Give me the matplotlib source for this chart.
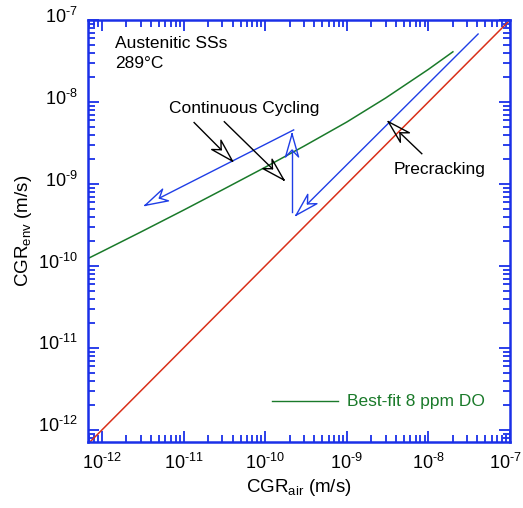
import matplotlib
matplotlib.use('Agg')
import matplotlib.pyplot as plt
import numpy as np
from matplotlib.ticker import LogLocator, NullFormatter, FixedLocator, FuncFormatter
from matplotlib.transforms import ScaledTranslation

plt.rcParams['font.family'] = ['Liberation Sans', 'DejaVu Sans']
plt.rcParams['mathtext.fontset'] = 'custom'
plt.rcParams['mathtext.rm'] = 'Liberation Sans'
plt.rcParams['mathtext.it'] = 'Liberation Sans:italic'
plt.rcParams['mathtext.bf'] = 'Liberation Sans:bold'

# best-fit curve for 8 ppm DO
fit_air = [6.7e-13, 1e-12, 3e-12, 1e-11, 3e-11, 1e-10, 3e-10, 1e-9, 3e-9, 1e-8, 2e-8]
fit_env = [1.23e-10, 1.5e-10, 2.6e-10, 4.8e-10, 8.5e-10, 1.6e-9, 2.9e-9, 5.7e-9, 1.12e-8, 2.5e-8, 4.1e-8]

# 1:1 line (CGR_env = CGR_air)
ref_air = [10**-12.17, 1e-7]
ref_env = [10**-12.17, 1e-7]

decades = [1e-12, 1e-11, 1e-10, 1e-9, 1e-8, 1e-7]

# arrows, (log10 start x, log10 start y, log10 tip x, log10 tip y)
blue_arrows = [
    (-7.39, -7.17, -9.62, -9.38),   # precracking
    (-9.65, -8.34, -11.47, -9.26),  # continuous cycling
    (-9.67, -9.34, -9.67, -8.39),   # vertical jump
]
black_arrows = [
    (-10.87, -8.25, -10.40, -8.72),
    (-10.50, -8.24, -9.77, -8.95),
    (-8.08, -8.63, -8.49, -8.24),
]

BLUE = '#1f3ee6'
RED = '#d9301a'
GREEN = '#1a7a2a'
AXBLUE = '#1a30e8'


def arrow(ax, a, color, L=0.28, W=0.08):
    x0, y0, x1, y1 = a
    d = np.array([x0 - x1, y0 - y1])
    d = d / np.hypot(*d)
    p = np.array([-d[1], d[0]])
    tip = np.array([x1, y1])
    b1 = tip + L * d + W * p
    b2 = tip + L * d - W * p
    notch = tip + 0.7 * L * d
    ax.plot([10**x0, 10**notch[0]], [10**y0, 10**notch[1]], color=color, lw=1.0)
    pts = np.array([tip, b1, notch, b2, tip])
    ax.plot(10**pts[:, 0], 10**pts[:, 1], color=color, lw=1.0)


def pow_label(v, pos):
    # short hyphen in the exponent, like the original
    return r'$\mathregular{10^{' + '\u2010' + str(abs(int(round(np.log10(v))))) + r'}}$'


fig = plt.figure(figsize=(5.23, 5.08), dpi=100)
ax = fig.add_axes([0.168, 0.1305, 0.807, 0.830])
ax.set_xscale('log')
ax.set_yscale('log')

ax.plot(ref_air, ref_env, color=RED, lw=1.1)
ax.plot(fit_air, fit_env, color=GREEN, lw=1.1)

for a in blue_arrows:
    arrow(ax, a, BLUE)
for a in black_arrows:
    arrow(ax, a, 'black')

ax.text(10**-11.84, 10**-7.19, 'Austenitic SSs\n289°C', fontsize=12.5,
        ha='left', va='top', linespacing=1.45)
ax.text(10**-10.26, 10**-8.08, 'Continuous Cycling', fontsize=12.5, ha='center', va='center')
ax.text(10**-7.86, 10**-8.82, 'Precracking', fontsize=12.5, ha='center', va='center')

ax.plot([0.436, 0.592], [0.0965, 0.0965], color=GREEN, lw=1.0, transform=ax.transAxes)
ax.text(0.614, 0.0965, 'Best-fit 8 ppm DO', color=GREEN, fontsize=12.5,
        ha='left', va='center', transform=ax.transAxes)

ax.set_xlim(10**-12.172, 1e-7)
ax.set_ylim(10**-12.143, 1e-7)

for axis in (ax.xaxis, ax.yaxis):
    axis.set_major_locator(FixedLocator(decades))
    axis.set_major_formatter(FuncFormatter(pow_label))
    axis.set_minor_locator(LogLocator(base=10, subs=np.arange(2, 10), numticks=20))
    axis.set_minor_formatter(NullFormatter())

ax.tick_params(which='both', direction='in', top=True, right=True, color=AXBLUE, width=1.3)
ax.tick_params(which='major', length=8, labelsize=13)
ax.tick_params(which='minor', length=5)
ax.tick_params(axis='x', pad=8)
ax.tick_params(axis='y', pad=7)
for s in ax.spines.values():
    s.set_color(AXBLUE)
    s.set_linewidth(1.8)

# y tick labels sit a little above their ticks in the original
shift = ScaledTranslation(0, 4 / 72, fig.dpi_scale_trans)
for lab in ax.get_yticklabels():
    lab.set_transform(lab.get_transform() + shift)
# keep the last x label inside the figure
xlabs = ax.get_xticklabels()
xlabs[-1].set_transform(xlabs[-1].get_transform() + ScaledTranslation(-5 / 100, 0, fig.dpi_scale_trans))

ax.set_xlabel(r'CGR$_{\mathrm{air}}$ (m/s)', fontsize=13.5, labelpad=3)
ax.set_ylabel(r'CGR$_{\mathrm{env}}$ (m/s)', fontsize=13.5, labelpad=3)

fig.savefig('out.png', dpi=100)
